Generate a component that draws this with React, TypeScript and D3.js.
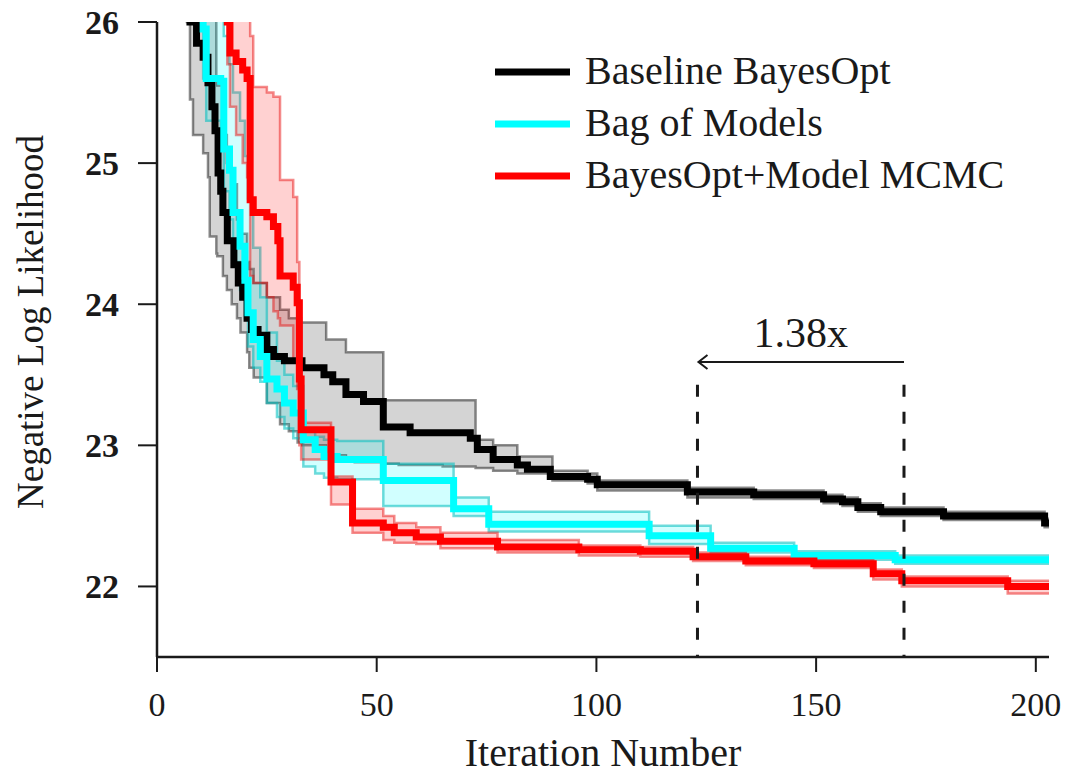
import React, { useRef, useEffect } from "react";
import * as d3 from "d3";

// Baseline BayesOpt
const blackX = [5, 7.5, 9, 10.5, 11.6, 12.5, 13.2, 13.9, 14.5, 15, 16, 17.5, 18.5, 19.5, 20.5, 21.5, 23, 25, 26.5, 29, 33, 38, 40, 43, 47, 51.5, 57.6, 71.3, 72.9, 76.5, 82, 84.3, 89.5, 98, 100.2, 120.7, 135.8, 151.7, 156, 159.5, 164.7, 179, 202, 203];
const blackMean = [26.6, 26.0, 25.85, 25.75, 25.57, 25.4, 25.23, 24.93, 24.8, 24.65, 24.45, 24.28, 24.15, 24.05, 23.9, 23.82, 23.78, 23.68, 23.63, 23.6, 23.55, 23.5, 23.45, 23.36, 23.31, 23.13, 23.09, 23.05, 22.97, 22.9, 22.86, 22.83, 22.78, 22.76, 22.72, 22.67, 22.65, 22.62, 22.6, 22.56, 22.53, 22.5, 22.45, 22.45];
const blackBandX = [5, 6.8, 7.5, 8.2, 10.5, 11.6, 12, 13.5, 13.7, 15, 15.9, 17, 18.2, 19, 20.5, 21, 22, 25, 28, 30, 32, 33, 38.5, 43, 45, 51.5, 55, 65, 72.5, 76.5, 82, 90, 98, 100.2, 120.7, 135.8, 151.7, 156, 159.5, 164.7, 179, 202, 203];
const blackHi = [26.8, 26.6, 26.5, 26.4, 26.3, 26.2, 26.1, 25.6, 25.55, 25.2, 25.0, 24.85, 24.6, 24.5, 24.3, 24.25, 24.15, 24.05, 23.96, 23.9, 23.87, 23.87, 23.75, 23.66, 23.66, 23.32, 23.32, 23.32, 23.04, 23.0, 22.92, 22.82, 22.8, 22.75, 22.7, 22.68, 22.65, 22.63, 22.59, 22.56, 22.53, 22.48, 22.48];
const blackLo = [26.3, 26.0, 25.45, 25.2, 25.07, 24.9, 24.48, 24.36, 24.34, 24.2, 24.1, 24.0, 23.9, 23.8, 23.66, 23.55, 23.48, 23.3, 23.15, 23.1, 23.02, 23.0, 22.93, 22.9, 22.88, 22.87, 22.86, 22.85, 22.84, 22.82, 22.8, 22.75, 22.73, 22.68, 22.63, 22.62, 22.59, 22.57, 22.53, 22.5, 22.47, 22.42, 22.42];

// Bag of Models
const cyanX = [9, 10.5, 11.2, 14.5, 15.2, 16.5, 17.3, 18.9, 20, 20.7, 21.9, 23.5, 25, 27.3, 29, 31, 33.3, 36, 38, 41, 51.5, 67.5, 75.5, 112, 126, 145, 168, 203];
const cyanMean = [26.5, 25.95, 25.6, 25.58, 25.1, 24.95, 24.65, 24.41, 24.17, 23.94, 23.75, 23.63, 23.47, 23.4, 23.3, 23.23, 23.04, 22.97, 22.92, 22.9, 22.75, 22.55, 22.44, 22.36, 22.27, 22.22, 22.19, 22.19];
const cyanHi = [27.0, 26.7, 26.4, 26.1, 25.9, 25.7, 25.5, 25.3, 25.05, 24.75, 24.4, 24.05, 23.8, 23.6, 23.5, 23.42, 23.12, 23.06, 23.04, 23.03, 22.87, 22.63, 22.53, 22.43, 22.31, 22.25, 22.22, 22.22];
const cyanLo = [26.0, 25.6, 25.3, 25.2, 24.8, 24.6, 24.3, 24.1, 23.9, 23.7, 23.55, 23.45, 23.3, 23.2, 23.12, 23.05, 22.85, 22.8, 22.77, 22.76, 22.57, 22.5, 22.39, 22.3, 22.24, 22.19, 22.16, 22.16];

// BayesOpt+Model MCMC
const redX = [15, 16, 16.6, 18, 19.5, 20.5, 21.2, 21.9, 25, 26.5, 27.5, 28, 31, 31.9, 32.4, 32.8, 39.6, 44.5, 51.5, 54, 59, 64.5, 77.5, 96, 110, 122, 134, 149.5, 163, 169.5, 193.6, 203];
const redMean = [26.6, 26.0, 25.78, 25.72, 25.66, 25.6, 24.74, 24.65, 24.62, 24.55, 24.45, 24.2, 24.12, 24.01, 23.47, 23.11, 22.74, 22.45, 22.42, 22.38, 22.35, 22.32, 22.28, 22.26, 22.25, 22.21, 22.18, 22.16, 22.09, 22.04, 22.0, 22.0];
const redHi = [27.2, 27.0, 26.9, 26.8, 26.7, 26.6, 25.9, 25.54, 25.5, 25.47, 25.47, 24.88, 24.76, 24.3, 23.9, 23.16, 22.78, 22.55, 22.5, 22.45, 22.42, 22.38, 22.33, 22.29, 22.28, 22.24, 22.21, 22.19, 22.12, 22.07, 22.04, 22.04];
const redLo = [26.2, 25.7, 25.4, 25.2, 25.0, 24.9, 24.2, 24.15, 24.05, 23.95, 23.9, 23.85, 23.6, 23.4, 23.0, 22.9, 22.58, 22.38, 22.33, 22.31, 22.3, 22.27, 22.24, 22.22, 22.21, 22.18, 22.15, 22.13, 22.05, 22.0, 21.95, 21.95];

const legendLabels = ["Baseline BayesOpt", "Bag of Models", "BayesOpt+Model MCMC"];
const xTicks = [0, 50, 100, 150, 200];
const yTicks = [22, 23, 24, 25, 26];
const speedupFrom = 170;
const speedupTo = 123;
const speedupLabel = "1.38x";

const W = 1065;
const H = 779;
const FONT = "'Liberation Serif', 'Times New Roman', serif";

export default function App() {
  const svgRef = useRef<SVGSVGElement>(null);

  useEffect(() => {
    const svg = d3.select(svgRef.current);
    svg.selectAll("*").remove();

    const x = d3.scaleLinear().domain([0, 203]).range([157, 1049]);
    const y = d3.scaleLinear().domain([21.5, 26]).range([657, 22]);

    svg
      .append("defs")
      .append("clipPath")
      .attr("id", "plot-clip")
      .append("rect")
      .attr("x", x(0))
      .attr("y", y(26))
      .attr("width", x(203) - x(0))
      .attr("height", y(21.5) - y(26));

    const series = [
      { bx: blackBandX, lo: blackLo, hi: blackHi, mx: blackX, m: blackMean, color: "#000000", fill: "rgba(0,0,0,0.17)", edge: "rgba(0,0,0,0.45)" },
      { bx: cyanX, lo: cyanLo, hi: cyanHi, mx: cyanX, m: cyanMean, color: "#00ffff", fill: "rgba(0,255,255,0.18)", edge: "rgba(0,190,190,0.55)" },
      { bx: redX, lo: redLo, hi: redHi, mx: redX, m: redMean, color: "#ff0000", fill: "rgba(255,0,0,0.18)", edge: "rgba(230,0,0,0.45)" },
    ];

    const plot = svg.append("g").attr("clip-path", "url(#plot-clip)");

    const area = d3.area<number>().curve(d3.curveStepAfter);
    const line = d3
      .line<[number, number]>()
      .curve(d3.curveStepAfter)
      .x((d) => x(d[0]))
      .y((d) => y(d[1]));

    // bands
    series.forEach((s) => {
      const idx = d3.range(s.bx.length);
      plot
        .append("path")
        .attr(
          "d",
          area
            .x((i) => x(s.bx[i]))
            .y0((i) => y(s.lo[i]))
            .y1((i) => y(s.hi[i]))(idx)
        )
        .attr("fill", s.fill);
      [s.lo, s.hi].forEach((edge) => {
        plot
          .append("path")
          .attr("d", line(s.bx.map((v, i) => [v, edge[i]] as [number, number])))
          .attr("fill", "none")
          .attr("stroke", s.edge)
          .attr("stroke-width", 2.5);
      });
    });

    // mean curves
    series.forEach((s) => {
      plot
        .append("path")
        .attr("d", line(s.mx.map((v, i) => [v, s.m[i]] as [number, number])))
        .attr("fill", "none")
        .attr("stroke", s.color)
        .attr("stroke-width", 7);
    });

    // axes
    const axisColor = "#1a1a1a";
    svg
      .append("line")
      .attr("x1", x(0))
      .attr("x2", x(0))
      .attr("y1", y(26))
      .attr("y2", y(21.5))
      .attr("stroke", axisColor)
      .attr("stroke-width", 2.5);
    svg
      .append("line")
      .attr("x1", x(0))
      .attr("x2", x(203))
      .attr("y1", y(21.5))
      .attr("y2", y(21.5))
      .attr("stroke", axisColor)
      .attr("stroke-width", 2.5);

    yTicks.forEach((t) => {
      svg
        .append("line")
        .attr("x1", x(0) - 19)
        .attr("x2", x(0))
        .attr("y1", y(t))
        .attr("y2", y(t))
        .attr("stroke", axisColor)
        .attr("stroke-width", 2);
      svg
        .append("text")
        .attr("x", x(0) - 38)
        .attr("y", y(t))
        .attr("dy", "0.35em")
        .attr("text-anchor", "end")
        .attr("font-family", FONT)
        .attr("font-weight", "bold")
        .attr("font-size", 34)
        .attr("fill", axisColor)
        .text(t);
    });

    xTicks.forEach((t) => {
      svg
        .append("line")
        .attr("x1", x(t))
        .attr("x2", x(t))
        .attr("y1", y(21.5))
        .attr("y2", y(21.5) + 15)
        .attr("stroke", axisColor)
        .attr("stroke-width", 2);
      svg
        .append("text")
        .attr("x", x(t))
        .attr("y", 716)
        .attr("text-anchor", "middle")
        .attr("font-family", FONT)
        .attr("font-size", 34)
        .attr("fill", axisColor)
        .text(t);
    });

    svg
      .append("text")
      .attr("x", (x(0) + x(203)) / 2)
      .attr("y", 766)
      .attr("text-anchor", "middle")
      .attr("font-family", FONT)
      .attr("font-size", 40)
      .attr("fill", axisColor)
      .text("Iteration Number");

    svg
      .append("text")
      .attr("transform", "rotate(-90)")
      .attr("x", -322)
      .attr("y", 43)
      .attr("text-anchor", "middle")
      .attr("font-family", FONT)
      .attr("font-size", 37)
      .attr("fill", axisColor)
      .text("Negative Log Likelihood");

    // speedup annotation
    [speedupTo, speedupFrom].forEach((v) => {
      svg
        .append("line")
        .attr("x1", x(v))
        .attr("x2", x(v))
        .attr("y1", y(23.43))
        .attr("y2", y(21.5))
        .attr("stroke", "#1a1a1a")
        .attr("stroke-width", 3)
        .attr("stroke-dasharray", "12 15");
    });
    const ay = y(23.59);
    svg
      .append("line")
      .attr("x1", x(speedupFrom))
      .attr("x2", x(speedupTo) + 1)
      .attr("y1", ay)
      .attr("y2", ay)
      .attr("stroke", "#1a1a1a")
      .attr("stroke-width", 2);
    svg
      .append("path")
      .attr("d", `M${x(speedupTo) + 10},${ay - 7} L${x(speedupTo) + 1},${ay} L${x(speedupTo) + 10},${ay + 7}`)
      .attr("fill", "none")
      .attr("stroke", "#1a1a1a")
      .attr("stroke-width", 2);
    svg
      .append("text")
      .attr("x", x((speedupFrom + speedupTo) / 2))
      .attr("y", 347)
      .attr("text-anchor", "middle")
      .attr("font-family", FONT)
      .attr("font-size", 42)
      .attr("fill", "#1a1a1a")
      .text(speedupLabel);

    // legend
    const legend = svg.append("g").attr("transform", "translate(495,72)");
    legendLabels.forEach((label, i) => {
      const row = legend.append("g").attr("transform", `translate(0,${i * 52})`);
      row
        .append("line")
        .attr("x1", 0)
        .attr("x2", 75)
        .attr("stroke", series[i].color)
        .attr("stroke-width", 7);
      row
        .append("text")
        .attr("x", 90)
        .attr("y", 12)
        .attr("font-family", FONT)
        .attr("font-size", 40)
        .attr("fill", "#1a1a1a")
        .text(label);
    });
  }, []);

  return (
    <svg
      ref={svgRef}
      width={W}
      height={H}
      style={{ position: "absolute", left: 0, top: 0, background: "#fff" }}
    />
  );
}
